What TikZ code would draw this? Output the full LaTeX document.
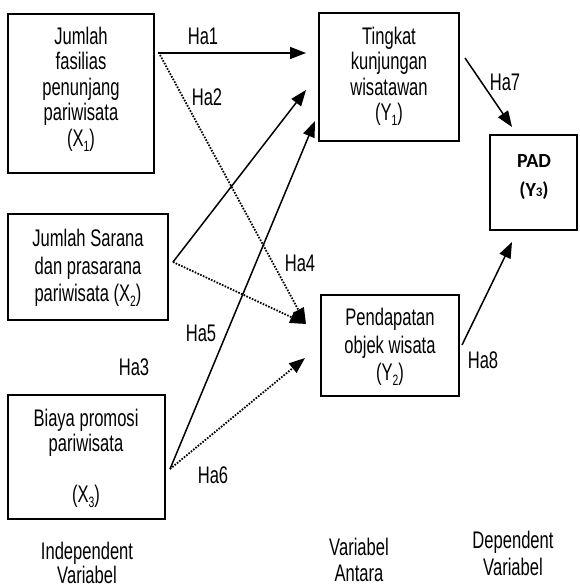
\documentclass[tikz,border=0pt]{standalone}
\usepackage{fontspec}
\setmainfont{Liberation Sans}[FakeStretch=0.69]
\newfontfamily\calibrifont{Carlito}
\usetikzlibrary{arrows.meta}
\newcommand{\lsub}[1]{\raisebox{-0.2em}{\fontsize{15}{15}\selectfont #1}}
\begin{document}
\begin{tikzpicture}[x=1pt,y=-1pt,
  box/.style={draw,line width=1.6pt,inner sep=0pt},
  txt/.style={align=center,inner sep=0pt,font=\fontsize{24}{25.5}\selectfont},
  lbl/.style={inner sep=0pt,font=\fontsize{24}{24}\selectfont},
  solidarrow/.style={line width=1.5pt,-{Triangle[length=16pt,width=12pt]}},
  dotarrow/.style={line width=1.8pt,dash pattern=on 1.6pt off 1.4pt,-{Triangle[length=16pt,width=12pt]}}]
\useasboundingbox (0,0) rectangle (579,588);
% boxes
\node[box,minimum width=146pt,minimum height=159pt] (x1) at (81,93.5) {};
\node[box,minimum width=160pt,minimum height=106pt] (x2) at (88,267) {};
\node[box,minimum width=157pt,minimum height=124pt] (x3) at (86.5,457) {};
\node[box,minimum width=140pt,minimum height=128pt] (y1) at (389,77) {};
\node[box,minimum width=138pt,minimum height=101pt] (y2) at (390,345.5) {};
\node[box,minimum width=87pt,minimum height=95pt] (y3) at (533.5,182.5) {};
% box texts
\node[txt] (x1t) at (81,89) {Jumlah\\fasilias\\penunjang\\pariwisata\\(X\lsub{1})};
\node[txt,font=\fontsize{24}{27.5}\selectfont] (x2t) at (88,268) {Jumlah Sarana\\dan prasarana\\pariwisata (X\lsub{2})};
\node[txt] (x3t) at (86,458.5) {Biaya promosi\\pariwisata\\[25.5pt](X\lsub{3})};
\node[txt] (y1t) at (389,76.5) {Tingkat\\kunjungan\\wisatawan\\(Y\lsub{1})};
\node[txt,font=\fontsize{24}{27.5}\selectfont] (y2t) at (390,347) {Pendapatan\\objek wisata\\(Y\lsub{2})};
\node[txt,font=\calibrifont\bfseries\fontsize{20}{29}\selectfont] (y3t) at (534,177) {PAD\\(Y{\fontsize{13}{13}\selectfont 3})};
% coordinates
\coordinate (a1s) at (158,53);
\coordinate (a1e) at (306,53);
\coordinate (a2s) at (160,55);
\coordinate (y2in) at (306,324);
\coordinate (x2s) at (173,262);
\coordinate (y1b) at (306,90);
\coordinate (x3s) at (170,469);
\coordinate (y1c) at (315,121);
\coordinate (y2c) at (305,358);
\coordinate (y1o) at (465,58);
\coordinate (y3a) at (512,127);
\coordinate (y2o) at (462,345);
\coordinate (y3b) at (512,242);
% connectors
\draw[solidarrow] (a1s) -- (a1e);
\draw[dotarrow] (a2s) -- (y2in);
\draw[solidarrow] (x2s) -- (y1b);
\draw[dotarrow] (x2s) -- (y2in);
\draw[solidarrow] (x3s) -- (y1c);
\draw[dotarrow] (x3s) -- (y2c);
\draw[solidarrow] (y1o) -- (y3a);
\draw[solidarrow] (y2o) -- (y3b);
% labels
\node[lbl] (ha1) at (203,36) {Ha1};
\node[lbl] (ha2) at (207,97) {Ha2};
\node[lbl] (ha3) at (134,367) {Ha3};
\node[lbl] (ha4) at (300,263) {Ha4};
\node[lbl] (ha5) at (201,333) {Ha5};
\node[lbl] (ha6) at (213,475) {Ha6};
\node[lbl] (ha7) at (505,82) {Ha7};
\node[lbl] (ha8) at (483,360) {Ha8};
% bottom captions
\node[txt,font=\fontsize{24}{22}\selectfont] (ind) at (87,563) {Independent\\Variabel};
\node[txt,font=\fontsize{24}{26}\selectfont] (ant) at (359,560) {Variabel\\Antara};
\node[txt,font=\fontsize{24}{27}\selectfont] (dep) at (513,553.5) {Dependent\\Variabel};
\end{tikzpicture}
\end{document}
